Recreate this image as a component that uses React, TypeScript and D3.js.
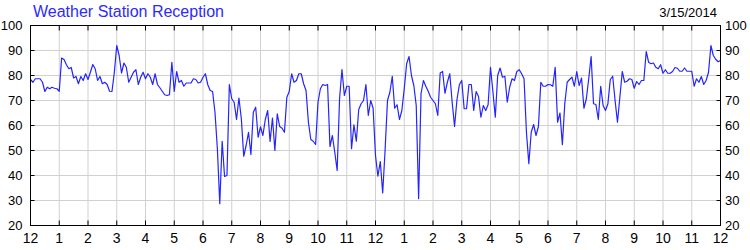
import React from "react";
import * as d3 from "d3";

// Signal reception (%) sampled every 5 minutes, one row per hour (12 values), starting at 12 AM
const hour00 = [78.4, 77.3, 78.7, 78.7, 78.7, 77.3, 73.6, 75.3, 74.7, 75.3, 74.9, 74.7];
const hour01 = [73.7, 87, 86.4, 84.3, 82.7, 83.2, 79, 79.6, 76.7, 79.6, 78, 80.7];
const hour02 = [78.4, 81.3, 84.4, 82.7, 78, 79.6, 76.7, 77.3, 76.4, 73.7, 73.6, 81.3];
const hour03 = [92, 88, 81, 85, 83.3, 77.3, 79.3, 81.3, 82.3, 76.4, 79.3, 81.3];
const hour04 = [78.7, 80.7, 79.3, 76.4, 80.7, 76.4, 75.1, 73.7, 72.3, 72, 72.3, 85.3];
const hour05 = [73.6, 81.6, 77.3, 78, 75.7, 77, 77, 77, 78.7, 78.4, 77, 77.3];
const hour06 = [79.3, 80.7, 76.3, 74, 73.6, 65.3, 50.7, 28.7, 53.7, 39.6, 40, 76.4];
const hour07 = [70.7, 69.3, 62.4, 71, 62.7, 47.7, 52, 57.3, 48.4, 65.3, 67.3, 55.3];
const hour08 = [59.5, 56, 62.4, 66, 53.6, 63, 50, 64.7, 59.6, 58.9, 57.3, 71.3];
const hour09 = [73.6, 80.7, 77.3, 78, 80.7, 80.7, 76.7, 74, 61.3, 54.4, 53.7, 52.4];
const hour10 = [69.3, 74.7, 76.4, 76, 76.4, 51.6, 56, 49.3, 42, 70.7, 82.4, 72];
const hour11 = [75.7, 75.7, 50.7, 60.3, 53.7, 66.4, 68.7, 70, 76.4, 64, 70, 66.9];
const hour12 = [48, 39.7, 45.6, 33, 50, 70, 73.3, 79.7, 66.9, 68.3, 62.4, 66];
const hour13 = [74.7, 84.7, 87.6, 80, 76, 68, 30.7, 72.7, 78, 75.7, 73.7, 71.3];
const hour14 = [70, 68.7, 64, 81, 81.6, 72.9, 77.3, 80.7, 69.3, 59.6, 70.3, 76.3];
const hour15 = [78, 66.7, 66.7, 76.4, 76.4, 66, 73.6, 71.6, 63.3, 68, 66, 68.3];
const hour16 = [83.3, 73.6, 63.3, 80, 83, 79.3, 79.7, 69.3, 75.3, 78.7, 78, 81.6];
const hour17 = [82.3, 80.7, 78.7, 57.3, 44.7, 57.3, 60.4, 56, 59.6, 77.3, 75.7, 75.7];
const hour18 = [76.4, 76.3, 75.7, 83.3, 61.3, 65, 52.3, 68.7, 77.3, 78.4, 79.3, 75.7];
const hour19 = [81.6, 76, 79, 66.9, 70.7, 78.7, 87.6, 68.7, 68.4, 62.4, 75.7, 68];
const hour20 = [66, 68.7, 78.4, 79.7, 70, 61.3, 71.3, 81.6, 77.3, 77.7, 78.7, 78.4];
const hour21 = [74.9, 77.6, 76.4, 78, 78, 89.6, 85.3, 84.7, 85, 83.3, 82.7, 84.3];
const hour22 = [80.9, 82.3, 80.9, 80.9, 81.6, 83.2, 82.9, 81.7, 81.7, 83, 81.7, 81.7];
const hour23 = [81.7, 75.7, 78.7, 77.3, 79.6, 76.4, 78, 81.3, 92, 88, 86.5, 85.5];
const midnightEnd = [86];

const hourLabels = ["12", "1", "2", "3", "4", "5", "6", "7", "8", "9", "10", "11",
  "12", "1", "2", "3", "4", "5", "6", "7", "8", "9", "10", "11", "12"];
const yTicks = [20, 30, 40, 50, 60, 70, 80, 90, 100];
const title = "Weather Station Reception";
const dateLabel = "3/15/2014";

const reception: number[] = [
  ...hour00, ...hour01, ...hour02, ...hour03, ...hour04, ...hour05,
  ...hour06, ...hour07, ...hour08, ...hour09, ...hour10, ...hour11,
  ...hour12, ...hour13, ...hour14, ...hour15, ...hour16, ...hour17,
  ...hour18, ...hour19, ...hour20, ...hour21, ...hour22, ...hour23,
  ...midnightEnd,
];
const samplesPerHour = 12;

export default function App() {
  const W = 750, H = 250;
  const left = 30.5, right = 720.5, top = 25.5, bottom = 225.5;
  const x = d3.scaleLinear().domain([0, 24]).range([left, right]);
  const y = d3.scaleLinear().domain([20, 100]).range([bottom, top]);
  const line = d3.line<number>()
    .x((_, i) => x(i / samplesPerHour))
    .y((d) => y(d));
  const font = "'Liberation Sans', Arial, sans-serif";
  const hours = d3.range(hourLabels.length);

  return (
    <svg width={W} height={H} style={{ position: "absolute", left: 0, top: 0, background: "#fff" }}
      fontFamily={font}>
      {/* grid */}
      {hours.map((h) => (
        <line key={"gx" + h} x1={x(h)} x2={x(h)} y1={top} y2={bottom} stroke="#d0d0d0" strokeWidth={1} />
      ))}
      {yTicks.map((v) => (
        <line key={"gy" + v} x1={left} x2={right} y1={y(v)} y2={y(v)} stroke="#d0d0d0" strokeWidth={1} />
      ))}
      {/* data line */}
      <path d={line(reception) || ""} fill="none" stroke="#2424ff" strokeWidth={1.2} strokeLinejoin="round" />
      {/* frame */}
      <rect x={left} y={top} width={right - left} height={bottom - top} fill="none" stroke="#000" strokeWidth={1} />
      {/* ticks */}
      {hours.map((h) => (
        <g key={"tx" + h}>
          <line x1={x(h)} x2={x(h)} y1={top} y2={top + 5} stroke="#000" />
          <line x1={x(h)} x2={x(h)} y1={bottom} y2={bottom - 5} stroke="#000" />
        </g>
      ))}
      {yTicks.map((v) => (
        <g key={"ty" + v}>
          <line x1={left} x2={left + 4} y1={y(v)} y2={y(v)} stroke="#000" />
          <line x1={right} x2={right - 4} y1={y(v)} y2={y(v)} stroke="#000" />
        </g>
      ))}
      {/* y labels */}
      {yTicks.map((v) => (
        <g key={"ly" + v} fontSize={13} fill="#000">
          <text x={22.5} y={y(v) + 4.5} textAnchor="end">{v}</text>
          <text x={725} y={y(v) + 4.5} textAnchor="start">{v}</text>
        </g>
      ))}
      {/* x labels */}
      {hours.map((h) => (
        <text key={"lx" + h} x={x(h)} y={243} textAnchor="middle" fontSize={14} fill="#000">
          {hourLabels[h]}
        </text>
      ))}
      <text x={33} y={17.3} fontSize={16} fill="#2b2bff">{title}</text>
      <text x={717} y={16.7} fontSize={13} fill="#000" textAnchor="end">{dateLabel}</text>
    </svg>
  );
}
